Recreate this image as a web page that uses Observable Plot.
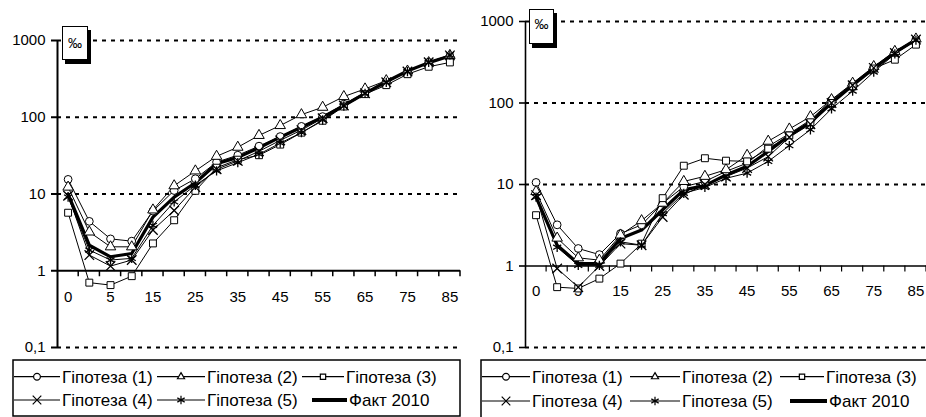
<!DOCTYPE html>
<html><head><meta charset="utf-8">
<script src="https://cdn.jsdelivr.net/npm/d3@7"></script>
<script src="https://cdn.jsdelivr.net/npm/@observablehq/plot@0.6"></script>
<style>
html,body{margin:0;padding:0;background:#fff}
body{width:926px;height:417px;overflow:hidden;position:relative;font-family:"Liberation Sans",Arial,sans-serif;color:#000}
.panel{position:absolute;top:0}
.permil{position:absolute;background:#fff;border:1.5px solid #000;box-shadow:3px 4px 0 #000;font-size:14px;text-align:center;box-sizing:border-box;padding-top:8px}
.legend{position:absolute}
</style></head><body>
<div id="left" class="panel" style="left:0"></div>
<div id="right" class="panel" style="left:463px"></div>
<div class="permil" style="left:62px;top:26px;width:26px;height:34px">‰</div>
<div class="permil" style="left:529px;top:9px;width:25px;height:35px;padding-top:6px">‰</div>
<svg id="legL" class="legend" style="left:0;top:355px" width="463" height="62"></svg>
<svg id="legR" class="legend" style="left:463px;top:355px" width="463" height="62"></svg>
<script>
// Categories (age groups) and tick labels
const ages = ["0","1","5","10","15","20","25","30","35","40","45","50","55","60","65","70","75","80","85"];
const tickLabels = ["0","5","15","25","35","45","55","65","75","85"];
const yTicks = [0.1, 1, 10, 100, 1000];
const gridValues = [0.1, 10, 100, 1000];
const seriesNames = ["Гіпотеза (1)","Гіпотеза (2)","Гіпотеза (3)","Гіпотеза (4)","Гіпотеза (5)","Факт 2010"];
const seriesSymbols = ["circle","triangle","square","times","asterisk",null];

// Left panel values (‰)
const left1 = [15.5, 4.4, 2.6, 2.43, 6.0, 11.1, 15.8, 26, 32, 42, 56, 76, 102, 148, 210, 290, 395, 520, 620];
const left2 = [12.3, 3.2, 2.05, 2.05, 6.2, 12.8, 20, 31, 40.7, 58, 78, 108, 135, 186, 234, 300, 400, 515, 640];
const left3 = [5.7, 0.70, 0.65, 0.85, 2.27, 4.55, 11, 22, 28, 32, 44, 63, 90, 138, 200, 262, 364, 455, 518];
const left4 = [9.5, 1.6, 1.15, 1.38, 3.4, 6.1, 12.3, 21, 27, 36, 50, 68, 97, 142, 205, 285, 395, 520, 640];
const left5 = [9.1, 1.86, 1.38, 1.45, 3.9, 7.9, 13, 20, 25.6, 33, 46, 63, 92, 140, 205, 285, 395, 520, 650];
const leftFact = [10, 2.15, 1.52, 1.68, 5.0, 9.1, 14, 24.8, 30, 40, 55, 74, 100, 142, 205, 290, 400, 515, 630];

// Right panel values (‰)
const right1 = [10.6, 3.2, 1.64, 1.38, 2.5, 3.2, 5.9, 9.4, 10.9, 14.5, 18.3, 29.4, 42, 62, 108, 172, 275, 420, 600];
const right2 = [8.2, 2.2, 1.26, 1.18, 2.4, 3.6, 5.9, 10.9, 12.6, 15.2, 22.8, 34, 48, 68, 110, 175, 280, 430, 610];
const right3 = [4.2, 0.55, 0.53, 0.70, 1.07, 1.88, 6.8, 17, 21, 19.6, 19.2, 27.5, 40, 58, 100, 160, 265, 340, 520];
const right4 = [7.4, 0.93, 0.55, 1.0, 1.88, 1.8, 4.0, 7.5, 10, 12.5, 15.9, 22, 38, 55, 100, 165, 270, 410, 600];
const right5 = [7.0, 1.7, 1.02, 1.02, 1.98, 1.8, 4.4, 7.8, 9.2, 11.9, 13.8, 19.2, 30, 47, 85, 140, 240, 400, 590];
const rightFact = [7.0, 1.8, 1.07, 1.07, 2.17, 2.76, 4.9, 8.6, 9.7, 13.1, 16.7, 25.5, 40, 58, 100, 165, 265, 415, 600];

function rows(arrs) {
  const out = [];
  arrs.forEach((a, s) => a.forEach((v, i) => out.push({s, i, v})));
  return out;
}

function panel(arrs, o) {
  const data = rows(arrs);
  const fact = data.filter(d => d.s === 5);
  const tickIdx = tickLabels.map(t => ages.indexOf(t));
  const marks = [
    Plot.ruleY(gridValues, {stroke: "#000", strokeWidth: 2, strokeDasharray: "4,5"}),
    Plot.axisY({ticks: yTicks, tickFormat: d => d === 0.1 ? "0,1" : String(d), tickSize: 6, tickPadding: 6, fontSize: 15, label: null, strokeWidth: o.axisW}),
    Plot.ruleX([-0.5], {stroke: "#000", strokeWidth: o.axisW}),
    Plot.ruleY([1], {stroke: "#000", strokeWidth: o.axisW}),
    (index, scales) => {
      const g = d3.create("svg:g").attr("stroke", "#000").attr("stroke-width", o.axisW * 0.75);
      const y0 = scales.y(1);
      for (let b = 0.5; b <= ages.length - 0.5; b++) {
        const x = scales.x(b);
        g.append("line").attr("x1", x).attr("x2", x).attr("y1", y0).attr("y2", y0 + 6);
      }
      return g.node();
    },
    Plot.text(tickIdx, {x: d => d, y: () => 1, text: d => ages[d], dy: o.labelDy, fontSize: 15}),
    Plot.line(fact, {x: "i", y: "v", stroke: "#000", strokeWidth: 3.2})
  ];
  for (let s = 0; s < 5; s++) {
    const sd = data.filter(d => d.s === s);
    marks.push(Plot.line(sd, {x: "i", y: "v", stroke: "#000", strokeWidth: 1}));
  }
  for (let s = 0; s < 5; s++) {
    const sd = data.filter(d => d.s === s);
    const open = s < 3;
    marks.push(Plot.dot(sd, {x: "i", y: "v", symbol: seriesSymbols[s], r: open ? 3.9 : 4.4, fill: open ? "#fff" : "none", stroke: "#000", strokeWidth: s >= 3 ? 1.3 : 1}));
  }
  return Plot.plot({
    width: o.width, height: o.height,
    marginLeft: o.ml, marginRight: o.mr, marginTop: o.mt, marginBottom: o.mb,
    style: {fontFamily: "'Liberation Sans', Arial, sans-serif", color: "#000", background: "transparent", overflow: "visible"},
    x: {type: "linear", domain: [-0.5, ages.length - 0.5], axis: null},
    y: {type: "log", domain: [0.1, 1000], axis: null},
    marks
  });
}

document.getElementById("left").append(panel([left1,left2,left3,left4,left5,leftFact], {width: 463, height: 355, ml: 57, mr: 3, mt: 40, mb: 8, axisW: 2, labelDy: 26}));
document.getElementById("right").append(panel([right1,right2,right3,right4,right5,rightFact], {width: 463, height: 355, ml: 62, mr: 0, mt: 21, mb: 8, axisW: 1.6, labelDy: 25}));

const symMap = {circle: d3.symbolCircle, triangle: d3.symbolTriangle2, square: d3.symbolSquare2, times: d3.symbolTimes, asterisk: d3.symbolAsterisk};

function legend(id, box, items) {
  const svg = d3.select(id);
  svg.append("rect").attr("x", box.x).attr("y", box.y).attr("width", box.w).attr("height", box.h)
    .attr("fill", "#fff").attr("stroke", "#000").attr("stroke-width", 1.5);
  items.forEach((it, s) => {
    const g = svg.append("g");
    const thick = seriesSymbols[s] === null;
    g.append("line").attr("x1", it.x1).attr("x2", it.x2).attr("y1", it.y).attr("y2", it.y)
      .attr("stroke", "#000").attr("stroke-width", thick ? 4 : 1.2);
    if (!thick) {
      g.append("path").attr("transform", `translate(${(it.x1 + it.x2) / 2},${it.y})`)
        .attr("d", d3.symbol(symMap[seriesSymbols[s]], s < 3 ? 36 : 50)())
        .attr("fill", s < 3 ? "#fff" : "none").attr("stroke", "#000").attr("stroke-width", 1.2);
    }
    g.append("text").attr("x", it.x2 + 2).attr("y", it.y).attr("dy", "0.35em")
      .attr("font-size", 17).attr("font-family", "'Liberation Sans', Arial, sans-serif").text(seriesNames[s]);
  });
}

legend("#legL", {x: 13, y: 5, w: 447, h: 56}, [
  {x1: 14, x2: 60, y: 21.7}, {x1: 157, x2: 205, y: 21.7}, {x1: 302, x2: 344, y: 21.7},
  {x1: 14, x2: 60, y: 45}, {x1: 157, x2: 205, y: 45}, {x1: 312, x2: 347, y: 45}
]);
legend("#legR", {x: 18, y: 5, w: 460, h: 70}, [
  {x1: 19, x2: 67, y: 21.7}, {x1: 167, x2: 217, y: 21.7}, {x1: 317, x2: 361, y: 21.7},
  {x1: 19, x2: 67, y: 46}, {x1: 167, x2: 217, y: 46}, {x1: 327, x2: 364, y: 46}
]);
</script>
</body></html>
